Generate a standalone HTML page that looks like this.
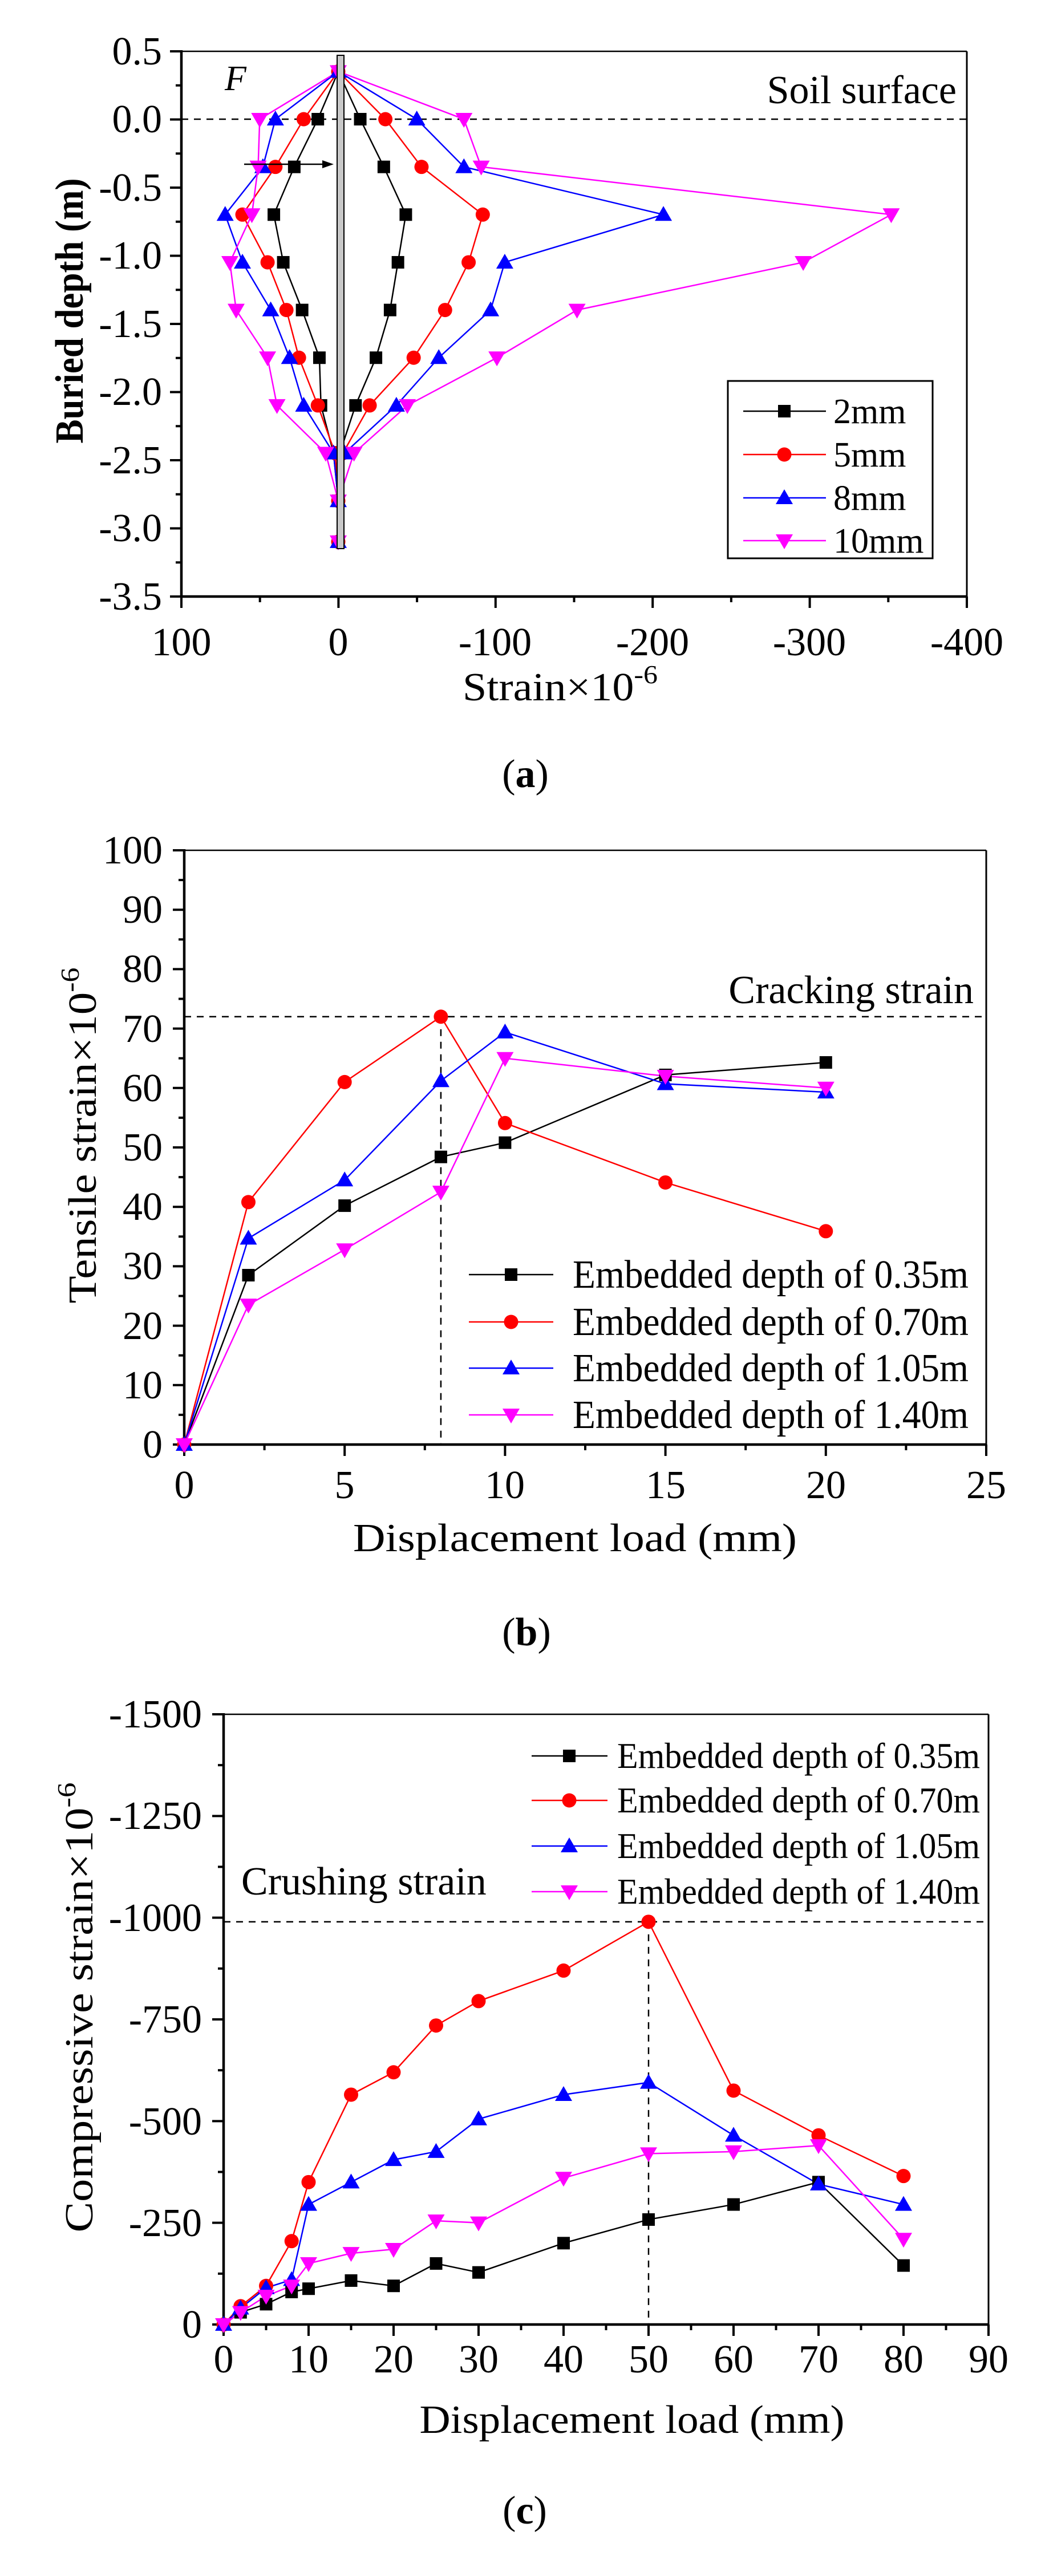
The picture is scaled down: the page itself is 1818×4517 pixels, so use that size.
<!DOCTYPE html>
<html><head><meta charset="utf-8"><style>
html,body{margin:0;padding:0;background:#fff;}
svg{display:block;}
text{font-family:"Liberation Serif",serif;fill:#000;}
</style></head><body>
<svg id="s" width="1818" height="4517" viewBox="0 0 1818 4517" xmlns="http://www.w3.org/2000/svg">
<g id="g"></g>
<!-- Panel a text -->
<g font-size="70">
<text x="284" y="113" text-anchor="end">0.5</text>
<text x="284" y="232" text-anchor="end">0.0</text>
<text x="284" y="352" text-anchor="end">-0.5</text>
<text x="284" y="471" text-anchor="end">-1.0</text>
<text x="284" y="591" text-anchor="end">-1.5</text>
<text x="284" y="710" text-anchor="end">-2.0</text>
<text x="284" y="830" text-anchor="end">-2.5</text>
<text x="284" y="949" text-anchor="end">-3.0</text>
<text x="284" y="1069" text-anchor="end">-3.5</text>
<text x="318" y="1149" text-anchor="middle">100</text>
<text x="593" y="1149" text-anchor="middle">0</text>
<text x="868" y="1149" text-anchor="middle">-100</text>
<text x="1144" y="1149" text-anchor="middle">-200</text>
<text x="1419" y="1149" text-anchor="middle">-300</text>
<text x="1695" y="1149" text-anchor="middle">-400</text>
<text x="1677" y="181" text-anchor="end">Soil surface</text>
<text x="811" y="1228" textLength="342" lengthAdjust="spacingAndGlyphs">Strain×10<tspan font-size="46" dy="-30">-6</tspan></text>
<text transform="translate(145,545) rotate(-90)" text-anchor="middle" font-weight="bold" textLength="465" lengthAdjust="spacingAndGlyphs">Buried depth (m)</text>
<text x="394" y="158" font-style="italic" font-size="62">F</text>
<text x="1461" y="742" font-size="62">2mm</text>
<text x="1461" y="818" font-size="62">5mm</text>
<text x="1461" y="894" font-size="62">8mm</text>
<text x="1461" y="969" font-size="62">10mm</text>
<text x="921" y="1380" text-anchor="middle">(<tspan font-weight="bold">a</tspan>)</text>
</g>
<!-- Panel b text -->
<g font-size="70">
<text x="285" y="1514" text-anchor="end">100</text>
<text x="285" y="1618" text-anchor="end">90</text>
<text x="285" y="1722" text-anchor="end">80</text>
<text x="285" y="1827" text-anchor="end">70</text>
<text x="285" y="1931" text-anchor="end">60</text>
<text x="285" y="2035" text-anchor="end">50</text>
<text x="285" y="2139" text-anchor="end">40</text>
<text x="285" y="2243" text-anchor="end">30</text>
<text x="285" y="2348" text-anchor="end">20</text>
<text x="285" y="2452" text-anchor="end">10</text>
<text x="285" y="2556" text-anchor="end">0</text>
<text x="323" y="2627" text-anchor="middle">0</text>
<text x="604" y="2627" text-anchor="middle">5</text>
<text x="885" y="2627" text-anchor="middle">10</text>
<text x="1167" y="2627" text-anchor="middle">15</text>
<text x="1448" y="2627" text-anchor="middle">20</text>
<text x="1729" y="2627" text-anchor="middle">25</text>
<text x="1707" y="1759" text-anchor="end">Cracking strain</text>
<text x="1008" y="2720" text-anchor="middle" textLength="778" lengthAdjust="spacingAndGlyphs">Displacement load (mm)</text>
<text transform="translate(168,1991) rotate(-90)" text-anchor="middle" textLength="589" lengthAdjust="spacingAndGlyphs">Tensile strain×10<tspan font-size="46" dy="-30">-6</tspan></text>
<text x="1004" y="2258" textLength="694" lengthAdjust="spacingAndGlyphs">Embedded depth of 0.35m</text>
<text x="1004" y="2341" textLength="694" lengthAdjust="spacingAndGlyphs">Embedded depth of 0.70m</text>
<text x="1004" y="2422" textLength="694" lengthAdjust="spacingAndGlyphs">Embedded depth of 1.05m</text>
<text x="1004" y="2504" textLength="694" lengthAdjust="spacingAndGlyphs">Embedded depth of 1.40m</text>
<text x="923" y="2885" text-anchor="middle">(<tspan font-weight="bold">b</tspan>)</text>
</g>
<!-- Panel c text -->
<g font-size="70">
<text x="354" y="3029" text-anchor="end">-1500</text>
<text x="354" y="3207" text-anchor="end">-1250</text>
<text x="354" y="3386" text-anchor="end">-1000</text>
<text x="354" y="3564" text-anchor="end">-750</text>
<text x="354" y="3743" text-anchor="end">-500</text>
<text x="354" y="3921" text-anchor="end">-250</text>
<text x="354" y="4099" text-anchor="end">0</text>
<text x="392" y="4160" text-anchor="middle">0</text>
<text x="541" y="4160" text-anchor="middle">10</text>
<text x="690" y="4160" text-anchor="middle">20</text>
<text x="839" y="4160" text-anchor="middle">30</text>
<text x="988" y="4160" text-anchor="middle">40</text>
<text x="1137" y="4160" text-anchor="middle">50</text>
<text x="1286" y="4160" text-anchor="middle">60</text>
<text x="1435" y="4160" text-anchor="middle">70</text>
<text x="1584" y="4160" text-anchor="middle">80</text>
<text x="1733" y="4160" text-anchor="middle">90</text>
<text x="423" y="3322">Crushing strain</text>
<text x="1108" y="4266" text-anchor="middle" textLength="745" lengthAdjust="spacingAndGlyphs">Displacement load (mm)</text>
<text transform="translate(162,3520) rotate(-90)" text-anchor="middle" textLength="789" lengthAdjust="spacingAndGlyphs">Compressive strain×10<tspan font-size="46" dy="-30">-6</tspan></text>
</g>
<g font-size="64">
<text x="1082" y="3100" textLength="636" lengthAdjust="spacingAndGlyphs">Embedded depth of 0.35m</text>
<text x="1082" y="3178" textLength="636" lengthAdjust="spacingAndGlyphs">Embedded depth of 0.70m</text>
<text x="1082" y="3258" textLength="636" lengthAdjust="spacingAndGlyphs">Embedded depth of 1.05m</text>
<text x="1082" y="3338" textLength="636" lengthAdjust="spacingAndGlyphs">Embedded depth of 1.40m</text>
</g>
<g font-size="70"><text x="920" y="4425" text-anchor="middle">(<tspan font-weight="bold">c</tspan>)</text></g>
</svg>
<script>
var g=document.getElementById('g');var NS='http://www.w3.org/2000/svg';
function el(t,a){var e=document.createElementNS(NS,t);for(var k in a)e.setAttribute(k,a[k]);g.appendChild(e);return e;}
function line(x1,y1,x2,y2,w,c,d){var a={x1:x1,y1:y1,x2:x2,y2:y2,stroke:c||'#000','stroke-width':w};if(d)a['stroke-dasharray']=d;el('line',a);}
var COL=['#000','#f00','#00f','#f0f'];
function mk(t,x,y){var c=COL[t];
 if(t==0)el('rect',{x:x-11,y:y-11,width:22,height:22,fill:c});
 else if(t==1)el('circle',{cx:x,cy:y,r:12.5,fill:c});
 else if(t==2)el('polygon',{points:(x-15)+','+(y+11)+' '+(x+15)+','+(y+11)+' '+x+','+(y-15),fill:c});
 else el('polygon',{points:(x-15)+','+(y-11)+' '+(x+15)+','+(y-11)+' '+x+','+(y+15),fill:c});}
function poly(pts,t){el('polyline',{points:pts.map(function(p){return p[0]+','+p[1]}).join(' '),fill:'none',stroke:COL[t],'stroke-width':2.5});}
function frame(L,T,R,B){line(L,T,R,T,2.5);line(R,T,R,B,3);line(L-2,B,R+1.5,B,4.5);line(L,T-2,L,B+2,4.5);}
// Panel A
(function(){var L=318,T=90,R=1695,B=1046;
 frame(L,T,R,B);
 for(var i=0;i<=16;i++){var y=T+i*(B-T)/16;line(L-(i%2?10:20),y,L,y,4);}
 for(var i=0;i<=10;i++){var x=L+i*(R-L)/10;line(x,B,x,B+(i%2?10:20),4);}
 line(L,209,R,209,2.5,'#000','12,10');
 function X(v){return 593-v*2.754}function Y(d){return 209-d*239}
 var D=[0,-0.35,-0.7,-1.05,-1.4,-1.75,-2.1,-2.45];
 var S=[[[13,28,41,35,23,12,11,3],[-14,-29,-43,-38,-33,-24,-11,-1]],
 [[22,40,61,45,33,25,13,2],[-30,-53,-92,-83,-68,-48,-20,-3]],
 [[40,48,72,61,43,31,22,3],[-50,-80,-207,-106,-97,-64,-37,-4]],
 [[50,51,55,69,65,45,39,8],[-80,-91,-352,-296,-152,-101,-44,-10]]];
 for(var t=0;t<4;t++)for(var s=0;s<2;s++){var p=[[X(0),Y(0.35)]];for(var i=0;i<8;i++)p.push([X(S[t][s][i]),Y(D[i])]);p.push([X(0),Y(-2.8)],[X(0),Y(-3.1)]);poly(p,t);}
 for(var t=0;t<4;t++){mk(t,X(0),Y(0.35));for(var s=0;s<2;s++)for(var i=0;i<8;i++)mk(t,X(S[t][s][i]),Y(D[i]));mk(t,X(0),Y(-2.8));mk(t,X(0),Y(-3.1));}
 el('rect',{x:591,y:97,width:12,height:865,fill:'#c8c8c8',stroke:'#000','stroke-width':2});
 line(428,288,570,288,2.5);el('polygon',{points:'585,288 565,281 565,295',fill:'#000'});
 el('rect',{x:1276,y:668,width:359,height:311,fill:'none',stroke:'#000','stroke-width':3});
 var ly=[721,797,873,948];for(var t=0;t<4;t++){line(1303,ly[t],1448,ly[t],2.5,COL[t]);mk(t,1375,ly[t]);}
})();
// Panel B
(function(){var L=323,T=1491,R=1729,B=2533;
 frame(L,T,R,B);
 for(var i=0;i<=20;i++){var y=T+i*(B-T)/20;line(L-(i%2?10:20),y,L,y,4);}
 for(var i=0;i<=10;i++){var x=L+i*(R-L)/10;line(x,B,x,B+(i%2?10:20),4);}
 function X(v){return L+v*56.24}function Y(v){return B-v*10.42}
 line(L,Y(72),R,Y(72),2.5,'#000','12,10');line(X(8),Y(72),X(8),B,2.5,'#000','12,10');
 var xs=[0,2,5,8,10,15,20];
 var S=[[0,28.5,40.2,48.4,50.8,62.2,64.3],[0,40.8,61,72,54.1,44.1,35.9],[0,34.7,44.5,61.2,69.4,60.7,59.3],[0,23.5,32.8,42.5,65,62,60]];
 for(var t=0;t<4;t++)poly(xs.map(function(x,i){return[X(x),Y(S[t][i])]}),t);
 for(var t=0;t<4;t++)xs.forEach(function(x,i){mk(t,X(x),Y(S[t][i]))});
 var ly=[2235,2318,2399,2481];for(var t=0;t<4;t++){line(822,ly[t],970,ly[t],2.5,COL[t]);mk(t,896,ly[t]);}
})();
// Panel C
(function(){var L=392,T=3006,R=1733,B=4076;
 frame(L,T,R,B);
 for(var i=0;i<=12;i++){var y=T+i*(B-T)/12;line(L-(i%2?10:20),y,L,y,4);}
 for(var i=0;i<=18;i++){var x=L+i*(R-L)/18;line(x,B,x,B+(i%2?10:20),4);}
 function X(v){return L+v*14.9}function Y(v){return B-v*0.7133}
 line(L,Y(990),R,Y(990),2.5,'#000','12,10');line(X(50),Y(990),X(50),B,2.5,'#000','12,10');
 var xs=[0,2,5,8,10,15,20,25,30,40,50,60,70,80];
 var S=[[0,30,50,80,88,108,95,150,128,200,258,295,350,145],[0,45,95,205,350,565,620,735,795,870,990,575,465,365],[0,40,90,110,295,350,405,425,505,565,595,465,345,295],[0,30,70,95,150,175,185,255,250,360,420,425,440,210]];
 for(var t=0;t<4;t++)poly(xs.map(function(x,i){return[X(x),Y(S[t][i])]}),t);
 for(var t=0;t<4;t++)xs.forEach(function(x,i){mk(t,X(x),Y(S[t][i]))});
 var ly=[3079,3157,3237,3317];for(var t=0;t<4;t++){line(932,ly[t],1065,ly[t],2.5,COL[t]);mk(t,998,ly[t]);}
})();
</script>
</body></html>
